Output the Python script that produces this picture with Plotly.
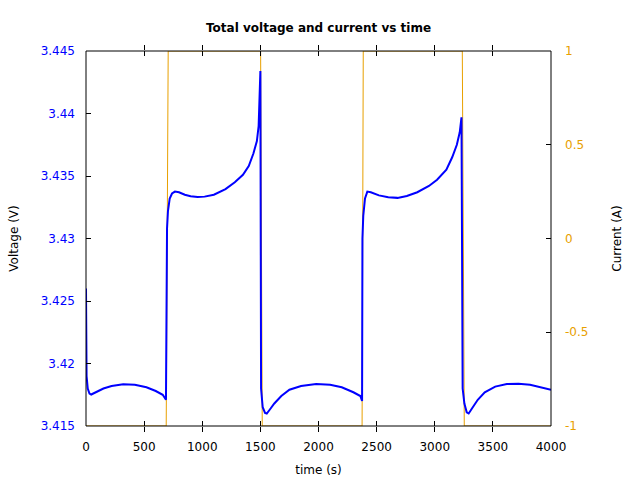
import plotly.graph_objects as go

# Voltage data (time s, voltage V)
t_volt = [0, 5, 15, 30, 45, 80, 150, 220, 320, 420, 520, 600, 660, 688,
          692, 697, 705, 720, 740, 765, 800, 850, 900, 960, 1020, 1100, 1200, 1280, 1350, 1400, 1440, 1470, 1485, 1495, 1500,
          1506, 1520, 1540, 1555, 1580, 1620, 1680, 1750, 1850, 1980, 2100, 2200, 2300, 2360, 2375,
          2378, 2385, 2400, 2420, 2450, 2520, 2600, 2680, 2760, 2850, 2950, 3020, 3100, 3150, 3190, 3215, 3230,
          3240, 3255, 3275, 3292, 3320, 3370, 3430, 3520, 3620, 3720, 3820, 3920, 4000]
voltage = [3.4260, 3.4190, 3.4180, 3.4176, 3.41752, 3.4177, 3.4180, 3.4182, 3.41834, 3.4183, 3.4181, 3.4178, 3.4175, 3.4171,
           3.4290, 3.4308, 3.4322, 3.4332, 3.4336, 3.43375, 3.4337, 3.4335, 3.43338, 3.43332, 3.43335, 3.4335, 3.43395, 3.4345, 3.4351, 3.4358, 3.4368, 3.4378, 3.4390, 3.4411, 3.4434,
           3.4180, 3.4165, 3.41605, 3.41600, 3.4163, 3.4168, 3.4174, 3.4179, 3.41820, 3.41836, 3.41830, 3.4181, 3.4177, 3.4174, 3.4170,
           3.4300, 3.4318, 3.4332, 3.43375, 3.4337, 3.43345, 3.4333, 3.43325, 3.4334, 3.4337, 3.4342, 3.4347, 3.4355, 3.4365, 3.4375, 3.4385, 3.4397,
           3.4180, 3.4168, 3.4161, 3.41600, 3.4164, 3.4171, 3.4177, 3.41815, 3.41835, 3.41838, 3.4183, 3.4181, 3.4179]

# Current data (time s, current A)
t_curr = [0, 690, 707, 1502, 1516, 2375, 2385, 3237, 3254, 4000]
current = [-1, -1, 1, 1, -1, -1, 1, 1, -1, -1]

x_ticks = [0, 500, 1000, 1500, 2000, 2500, 3000, 3500, 4000]
y_ticks = [3.415, 3.42, 3.425, 3.43, 3.435, 3.44, 3.445]
y_ticktext = ["3.415", "3.42", "3.425", "3.43", "3.435", "3.44", "3.445"]
y2_ticks = [-1, -0.5, 0, 0.5, 1]
y2_ticktext = ["-1", "-0.5", "0", "0.5", "1"]

BLUE = "#0000ff"
ORANGE = "#e8a000"
FONT = "DejaVu Sans"

fig = go.Figure()
# current on base y axis (right side), voltage on overlaying axis (left side) so it draws on top
fig.add_trace(go.Scatter(x=t_curr, y=current, mode="lines", yaxis="y",
                         line=dict(color=ORANGE, width=1), showlegend=False))
fig.add_trace(go.Scatter(x=t_volt, y=voltage, mode="lines", yaxis="y2",
                         line=dict(color=BLUE, width=2), showlegend=False))

fig.update_layout(
    width=640, height=480,
    margin=dict(l=86, r=89, t=51, b=54, autoexpand=False),
    paper_bgcolor="white", plot_bgcolor="white",
    font=dict(family=FONT, size=12, color="black"),
    title=dict(text="<b>Total voltage and current vs time</b>", x=0.4977, xanchor="center",
               y=1 - 28 / 480, yanchor="middle", font=dict(size=12, family=FONT)),
    xaxis=dict(range=[0, 4000], tickvals=x_ticks, ticktext=[str(v) for v in x_ticks],
               ticks="inside", ticklen=5, tickcolor="black", showline=False,
               mirror="allticks", showgrid=False, zeroline=False, automargin=False,
               ticklabelstandoff=12,
               title=dict(text="time (s)", standoff=12, font=dict(size=12))),
    yaxis=dict(range=[-1, 1], tickvals=y2_ticks, ticktext=y2_ticktext, side="right",
               ticks="inside", ticklen=5, tickcolor="black", showline=False,
               showgrid=False, zeroline=False, automargin=False,
               tickfont=dict(color=ORANGE), ticklabelstandoff=13,
               title=dict(text="Current (A)", standoff=25, font=dict(size=12))),
    yaxis2=dict(range=[3.415, 3.445], tickvals=y_ticks, ticktext=y_ticktext,
                overlaying="y", side="left",
                ticks="inside", ticklen=5, tickcolor="black", showline=False,
                showgrid=False, zeroline=False, automargin=False,
                tickfont=dict(color=BLUE), ticklabelstandoff=10,
                title=dict(text="Voltage (V)", standoff=19, font=dict(size=12))),
    shapes=[dict(type="rect", xref="x domain", yref="y domain", x0=0, x1=1, y0=0, y1=1,
                 line=dict(color="black", width=1), fillcolor="rgba(0,0,0,0)", layer="above")],
)

fig.write_html("out.html")
